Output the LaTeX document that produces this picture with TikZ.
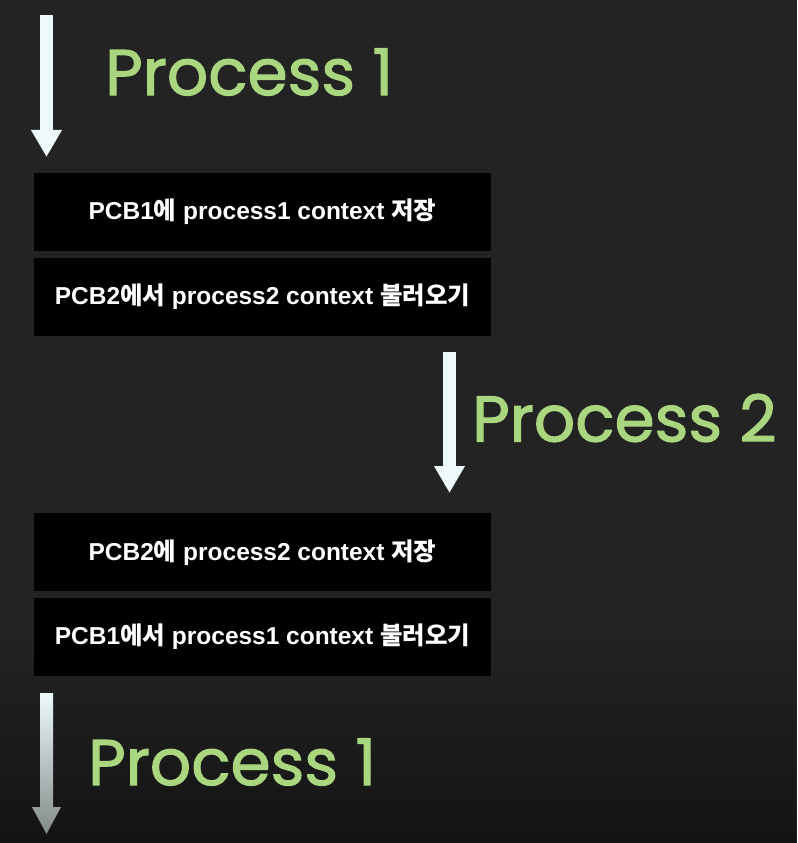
\documentclass[tikz,border=0pt]{standalone}
\usepackage{fontspec}
\setmainfont{Liberation Sans}
\newfontfamily\krfont{Noto Sans CJK KR}
\newfontfamily\handfont[FakeBold=1.6]{Poppins}
\newcommand\ko[1]{{\krfont\bfseries #1}}
\usetikzlibrary{arrows.meta,positioning,fadings}

\definecolor{bgdark}{HTML}{232323}
\definecolor{bgbottom}{HTML}{141414}
\definecolor{arrowc}{HTML}{EEFAFA}
\definecolor{handgreen}{HTML}{A9D67E}

\begin{document}
\begin{tikzpicture}[
  x=0.025cm, y=-0.025cm,
  node distance=0.15cm,
  stepbox/.style={rectangle, fill=black, minimum width=11.425cm, minimum height=1.95cm, inner sep=0pt, text=white, font=\bfseries\fontsize{17.4}{20}\selectfont},
  flow/.style={draw=arrowc, line width=0.325cm, -{Triangle[length=0.675cm, width=0.725cm]}},
  proc/.style={text=handgreen, font=\handfont\fontsize{46}{50}\selectfont, inner sep=0pt, anchor=west},
]
  % background
  \fill[bgdark] (0,0) rectangle (797,843);
  \fill[bgbottom, path fading=north] (0,640) rectangle (797,843);

  % context switch boxes
  \node[stepbox] (save1) at (262.5,212) {PCB1\ko{에} process1 context \ko{저장}};
  \node[stepbox, below=of save1] (load2) {PCB2\ko{에서} process2 context \ko{불러오기}};
  \node[stepbox, below=4.425cm of load2] (save2) {PCB2\ko{에} process2 context \ko{저장}};
  \node[stepbox, below=of save2] (load1) {PCB1\ko{에서} process1 context \ko{불러오기}};

  % running process arrows
  \coordinate (run1s) at (46.5,15);
  \coordinate (run1e) at (46.5,157);
  \coordinate (run2s) at (449.5,352);
  \coordinate (run2e) at (449.5,493);
  \draw[flow] (run1s) -- (run1e);
  \draw[flow] (run2s) -- (run2e);
  \shade[top color=arrowc, bottom color=arrowc!55!black]
    (40,693) -- (53,693) -- (53,807) -- (61,807) -- (46.5,834) -- (32,807) -- (40,807) -- cycle;

  \node[proc] (proc1) at (105,72) {Process 1};
  \node[proc] (proc2) at (472,418) {Process 2};
  \node[proc] (proc3) at (88,762) {Process 1};
\end{tikzpicture}
\end{document}
